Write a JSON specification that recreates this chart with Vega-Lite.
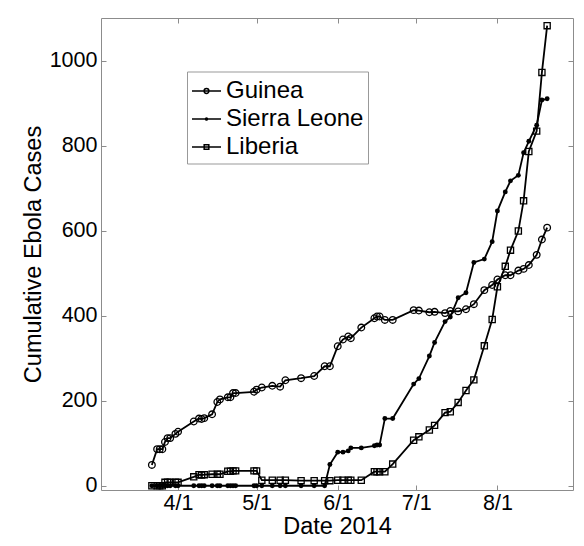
{
  "$schema": "https://vega.github.io/schema/vega-lite/v6.json",
  "width": 472,
  "height": 472,
  "autosize": {"type": "none"},
  "padding": {"left": 101, "top": 18, "right": 11, "bottom": 56},
  "background": "white",
  "config": {
    "font": "Liberation Sans",
    "view": {"stroke": "#8c8c8c", "strokeWidth": 1},
    "axis": {"grid": false, "domain": false, "labelOverlap": false, "labelFlush": false, "tickColor": "#8c8c8c", "tickWidth": 1}
  },
  "data": {
    "values": [
      {"date": "2014-03-22", "country": "Guinea", "cases": 49},
      {"date": "2014-03-24", "country": "Guinea", "cases": 86},
      {"date": "2014-03-25", "country": "Guinea", "cases": 86},
      {"date": "2014-03-26", "country": "Guinea", "cases": 86},
      {"date": "2014-03-27", "country": "Guinea", "cases": 103},
      {"date": "2014-03-28", "country": "Guinea", "cases": 112},
      {"date": "2014-03-29", "country": "Guinea", "cases": 112},
      {"date": "2014-03-31", "country": "Guinea", "cases": 122},
      {"date": "2014-04-01", "country": "Guinea", "cases": 127},
      {"date": "2014-04-07", "country": "Guinea", "cases": 151},
      {"date": "2014-04-09", "country": "Guinea", "cases": 158},
      {"date": "2014-04-10", "country": "Guinea", "cases": 157},
      {"date": "2014-04-11", "country": "Guinea", "cases": 159},
      {"date": "2014-04-14", "country": "Guinea", "cases": 168},
      {"date": "2014-04-16", "country": "Guinea", "cases": 197},
      {"date": "2014-04-17", "country": "Guinea", "cases": 203},
      {"date": "2014-04-20", "country": "Guinea", "cases": 208},
      {"date": "2014-04-21", "country": "Guinea", "cases": 208},
      {"date": "2014-04-22", "country": "Guinea", "cases": 218},
      {"date": "2014-04-23", "country": "Guinea", "cases": 218},
      {"date": "2014-04-30", "country": "Guinea", "cases": 221},
      {"date": "2014-05-01", "country": "Guinea", "cases": 226},
      {"date": "2014-05-03", "country": "Guinea", "cases": 231},
      {"date": "2014-05-07", "country": "Guinea", "cases": 235},
      {"date": "2014-05-10", "country": "Guinea", "cases": 233},
      {"date": "2014-05-12", "country": "Guinea", "cases": 248},
      {"date": "2014-05-18", "country": "Guinea", "cases": 253},
      {"date": "2014-05-23", "country": "Guinea", "cases": 258},
      {"date": "2014-05-27", "country": "Guinea", "cases": 281},
      {"date": "2014-05-29", "country": "Guinea", "cases": 281},
      {"date": "2014-06-01", "country": "Guinea", "cases": 328},
      {"date": "2014-06-03", "country": "Guinea", "cases": 344},
      {"date": "2014-06-05", "country": "Guinea", "cases": 351},
      {"date": "2014-06-06", "country": "Guinea", "cases": 347},
      {"date": "2014-06-10", "country": "Guinea", "cases": 372},
      {"date": "2014-06-15", "country": "Guinea", "cases": 394},
      {"date": "2014-06-16", "country": "Guinea", "cases": 398},
      {"date": "2014-06-17", "country": "Guinea", "cases": 398},
      {"date": "2014-06-19", "country": "Guinea", "cases": 390},
      {"date": "2014-06-22", "country": "Guinea", "cases": 390},
      {"date": "2014-06-30", "country": "Guinea", "cases": 413},
      {"date": "2014-07-02", "country": "Guinea", "cases": 412},
      {"date": "2014-07-06", "country": "Guinea", "cases": 408},
      {"date": "2014-07-08", "country": "Guinea", "cases": 409},
      {"date": "2014-07-12", "country": "Guinea", "cases": 406},
      {"date": "2014-07-14", "country": "Guinea", "cases": 411},
      {"date": "2014-07-17", "country": "Guinea", "cases": 410},
      {"date": "2014-07-20", "country": "Guinea", "cases": 415},
      {"date": "2014-07-23", "country": "Guinea", "cases": 427},
      {"date": "2014-07-27", "country": "Guinea", "cases": 460},
      {"date": "2014-07-30", "country": "Guinea", "cases": 472},
      {"date": "2014-08-01", "country": "Guinea", "cases": 485},
      {"date": "2014-08-04", "country": "Guinea", "cases": 495},
      {"date": "2014-08-06", "country": "Guinea", "cases": 495},
      {"date": "2014-08-09", "country": "Guinea", "cases": 506},
      {"date": "2014-08-11", "country": "Guinea", "cases": 510},
      {"date": "2014-08-13", "country": "Guinea", "cases": 519},
      {"date": "2014-08-16", "country": "Guinea", "cases": 543},
      {"date": "2014-08-18", "country": "Guinea", "cases": 579},
      {"date": "2014-08-20", "country": "Guinea", "cases": 607},

      {"date": "2014-03-22", "country": "Sierra Leone", "cases": 0},
      {"date": "2014-03-24", "country": "Sierra Leone", "cases": 0},
      {"date": "2014-03-25", "country": "Sierra Leone", "cases": 0},
      {"date": "2014-03-26", "country": "Sierra Leone", "cases": 0},
      {"date": "2014-03-27", "country": "Sierra Leone", "cases": 0},
      {"date": "2014-03-28", "country": "Sierra Leone", "cases": 0},
      {"date": "2014-03-29", "country": "Sierra Leone", "cases": 0},
      {"date": "2014-03-31", "country": "Sierra Leone", "cases": 0},
      {"date": "2014-04-01", "country": "Sierra Leone", "cases": 0},
      {"date": "2014-04-07", "country": "Sierra Leone", "cases": 0},
      {"date": "2014-04-09", "country": "Sierra Leone", "cases": 0},
      {"date": "2014-04-10", "country": "Sierra Leone", "cases": 0},
      {"date": "2014-04-11", "country": "Sierra Leone", "cases": 0},
      {"date": "2014-04-14", "country": "Sierra Leone", "cases": 0},
      {"date": "2014-04-16", "country": "Sierra Leone", "cases": 0},
      {"date": "2014-04-17", "country": "Sierra Leone", "cases": 0},
      {"date": "2014-04-20", "country": "Sierra Leone", "cases": 0},
      {"date": "2014-04-21", "country": "Sierra Leone", "cases": 0},
      {"date": "2014-04-22", "country": "Sierra Leone", "cases": 0},
      {"date": "2014-04-23", "country": "Sierra Leone", "cases": 0},
      {"date": "2014-04-30", "country": "Sierra Leone", "cases": 0},
      {"date": "2014-05-01", "country": "Sierra Leone", "cases": 0},
      {"date": "2014-05-03", "country": "Sierra Leone", "cases": 0},
      {"date": "2014-05-07", "country": "Sierra Leone", "cases": 0},
      {"date": "2014-05-10", "country": "Sierra Leone", "cases": 0},
      {"date": "2014-05-12", "country": "Sierra Leone", "cases": 0},
      {"date": "2014-05-18", "country": "Sierra Leone", "cases": 0},
      {"date": "2014-05-23", "country": "Sierra Leone", "cases": 0},
      {"date": "2014-05-27", "country": "Sierra Leone", "cases": 0},
      {"date": "2014-05-29", "country": "Sierra Leone", "cases": 50},
      {"date": "2014-06-01", "country": "Sierra Leone", "cases": 79},
      {"date": "2014-06-03", "country": "Sierra Leone", "cases": 79},
      {"date": "2014-06-05", "country": "Sierra Leone", "cases": 82},
      {"date": "2014-06-06", "country": "Sierra Leone", "cases": 89},
      {"date": "2014-06-10", "country": "Sierra Leone", "cases": 89},
      {"date": "2014-06-15", "country": "Sierra Leone", "cases": 94},
      {"date": "2014-06-16", "country": "Sierra Leone", "cases": 96},
      {"date": "2014-06-17", "country": "Sierra Leone", "cases": 96},
      {"date": "2014-06-19", "country": "Sierra Leone", "cases": 158},
      {"date": "2014-06-22", "country": "Sierra Leone", "cases": 158},
      {"date": "2014-06-30", "country": "Sierra Leone", "cases": 239},
      {"date": "2014-07-02", "country": "Sierra Leone", "cases": 252},
      {"date": "2014-07-06", "country": "Sierra Leone", "cases": 305},
      {"date": "2014-07-08", "country": "Sierra Leone", "cases": 337},
      {"date": "2014-07-12", "country": "Sierra Leone", "cases": 386},
      {"date": "2014-07-14", "country": "Sierra Leone", "cases": 397},
      {"date": "2014-07-17", "country": "Sierra Leone", "cases": 442},
      {"date": "2014-07-20", "country": "Sierra Leone", "cases": 454},
      {"date": "2014-07-23", "country": "Sierra Leone", "cases": 525},
      {"date": "2014-07-27", "country": "Sierra Leone", "cases": 533},
      {"date": "2014-07-30", "country": "Sierra Leone", "cases": 574},
      {"date": "2014-08-01", "country": "Sierra Leone", "cases": 646},
      {"date": "2014-08-04", "country": "Sierra Leone", "cases": 691},
      {"date": "2014-08-06", "country": "Sierra Leone", "cases": 717},
      {"date": "2014-08-09", "country": "Sierra Leone", "cases": 730},
      {"date": "2014-08-11", "country": "Sierra Leone", "cases": 783},
      {"date": "2014-08-13", "country": "Sierra Leone", "cases": 810},
      {"date": "2014-08-16", "country": "Sierra Leone", "cases": 848},
      {"date": "2014-08-18", "country": "Sierra Leone", "cases": 907},
      {"date": "2014-08-20", "country": "Sierra Leone", "cases": 910},

      {"date": "2014-03-22", "country": "Liberia", "cases": 0},
      {"date": "2014-03-24", "country": "Liberia", "cases": 0},
      {"date": "2014-03-25", "country": "Liberia", "cases": 0},
      {"date": "2014-03-26", "country": "Liberia", "cases": 0},
      {"date": "2014-03-27", "country": "Liberia", "cases": 8},
      {"date": "2014-03-28", "country": "Liberia", "cases": 8},
      {"date": "2014-03-29", "country": "Liberia", "cases": 8},
      {"date": "2014-03-31", "country": "Liberia", "cases": 8},
      {"date": "2014-04-01", "country": "Liberia", "cases": 8},
      {"date": "2014-04-07", "country": "Liberia", "cases": 21},
      {"date": "2014-04-09", "country": "Liberia", "cases": 26},
      {"date": "2014-04-10", "country": "Liberia", "cases": 25},
      {"date": "2014-04-11", "country": "Liberia", "cases": 26},
      {"date": "2014-04-14", "country": "Liberia", "cases": 27},
      {"date": "2014-04-16", "country": "Liberia", "cases": 27},
      {"date": "2014-04-17", "country": "Liberia", "cases": 27},
      {"date": "2014-04-20", "country": "Liberia", "cases": 34},
      {"date": "2014-04-21", "country": "Liberia", "cases": 34},
      {"date": "2014-04-22", "country": "Liberia", "cases": 35},
      {"date": "2014-04-23", "country": "Liberia", "cases": 35},
      {"date": "2014-04-30", "country": "Liberia", "cases": 35},
      {"date": "2014-05-01", "country": "Liberia", "cases": 35},
      {"date": "2014-05-03", "country": "Liberia", "cases": 13},
      {"date": "2014-05-07", "country": "Liberia", "cases": 13},
      {"date": "2014-05-10", "country": "Liberia", "cases": 13},
      {"date": "2014-05-12", "country": "Liberia", "cases": 13},
      {"date": "2014-05-18", "country": "Liberia", "cases": 12},
      {"date": "2014-05-23", "country": "Liberia", "cases": 12},
      {"date": "2014-05-27", "country": "Liberia", "cases": 12},
      {"date": "2014-05-29", "country": "Liberia", "cases": 12},
      {"date": "2014-06-01", "country": "Liberia", "cases": 13},
      {"date": "2014-06-03", "country": "Liberia", "cases": 13},
      {"date": "2014-06-05", "country": "Liberia", "cases": 13},
      {"date": "2014-06-06", "country": "Liberia", "cases": 13},
      {"date": "2014-06-10", "country": "Liberia", "cases": 13},
      {"date": "2014-06-15", "country": "Liberia", "cases": 33},
      {"date": "2014-06-16", "country": "Liberia", "cases": 33},
      {"date": "2014-06-17", "country": "Liberia", "cases": 33},
      {"date": "2014-06-19", "country": "Liberia", "cases": 33},
      {"date": "2014-06-22", "country": "Liberia", "cases": 51},
      {"date": "2014-06-30", "country": "Liberia", "cases": 107},
      {"date": "2014-07-02", "country": "Liberia", "cases": 115},
      {"date": "2014-07-06", "country": "Liberia", "cases": 131},
      {"date": "2014-07-08", "country": "Liberia", "cases": 142},
      {"date": "2014-07-12", "country": "Liberia", "cases": 172},
      {"date": "2014-07-14", "country": "Liberia", "cases": 174},
      {"date": "2014-07-17", "country": "Liberia", "cases": 196},
      {"date": "2014-07-20", "country": "Liberia", "cases": 224},
      {"date": "2014-07-23", "country": "Liberia", "cases": 249},
      {"date": "2014-07-27", "country": "Liberia", "cases": 329},
      {"date": "2014-07-30", "country": "Liberia", "cases": 391},
      {"date": "2014-08-01", "country": "Liberia", "cases": 468},
      {"date": "2014-08-04", "country": "Liberia", "cases": 516},
      {"date": "2014-08-06", "country": "Liberia", "cases": 554},
      {"date": "2014-08-09", "country": "Liberia", "cases": 599},
      {"date": "2014-08-11", "country": "Liberia", "cases": 670},
      {"date": "2014-08-13", "country": "Liberia", "cases": 786},
      {"date": "2014-08-16", "country": "Liberia", "cases": 834},
      {"date": "2014-08-18", "country": "Liberia", "cases": 972},
      {"date": "2014-08-20", "country": "Liberia", "cases": 1082}
    ]
  },
  "layer": [
    {
      "mark": {"type": "line", "color": "black", "strokeWidth": 1.8},
      "encoding": {
        "x": {
          "field": "date", "type": "temporal",
          "scale": {"type": "utc", "nice": false, "domain": [{"year": 2014, "month": 3, "date": 2, "hours": 13, "minutes": 30, "utc": true}, {"year": 2014, "month": 8, "date": 29, "hours": 21, "utc": true}]},
          "axis": {
            "orient": "bottom",
            "values": [{"year": 2014, "month": 4, "date": 1, "utc": true}, {"year": 2014, "month": 5, "date": 1, "utc": true}, {"year": 2014, "month": 6, "date": 1, "utc": true}, {"year": 2014, "month": 7, "date": 1, "utc": true}, {"year": 2014, "month": 8, "date": 1, "utc": true}],
            "labelExpr": "utcFormat(datum.value, '%-m/%-d')",
            "tickSize": -5, "labelPadding": 7, "labelFontSize": 21.5, "labelColor": "black",
            "title": "Date 2014", "titleFontSize": 23.5, "titleFontWeight": "normal", "titleColor": "black", "titlePadding": 1
          }
        },
        "y": {
          "field": "cases", "type": "quantitative",
          "scale": {"domain": [-10, 1100], "nice": false, "zero": false},
          "axis": {
            "orient": "left",
            "values": [0, 200, 400, 600, 800, 1000],
            "format": "d",
            "tickSize": -5, "labelPadding": 9, "labelFontSize": 21.5, "labelColor": "black",
            "title": "Cumulative Ebola Cases", "titleFontSize": 23.5, "titleFontWeight": "normal", "titleColor": "black", "titlePadding": 4
          }
        },
        "detail": {"field": "country", "type": "nominal"}
      }
    },
    {
      "transform": [{"filter": "datum.country === 'Guinea'"}],
      "mark": {"type": "point", "shape": "circle", "size": 44, "filled": false, "color": "black", "strokeWidth": 1.3, "opacity": 1},
      "encoding": {
        "x": {"field": "date", "type": "temporal", "axis": {"orient": "top", "labels": false, "title": null, "tickSize": -5, "values": [{"year": 2014, "month": 4, "date": 1, "utc": true}, {"year": 2014, "month": 5, "date": 1, "utc": true}, {"year": 2014, "month": 6, "date": 1, "utc": true}, {"year": 2014, "month": 7, "date": 1, "utc": true}, {"year": 2014, "month": 8, "date": 1, "utc": true}]}},
        "y": {"field": "cases", "type": "quantitative", "axis": {"orient": "right", "labels": false, "title": null, "tickSize": -5, "values": [0, 200, 400, 600, 800, 1000]}}
      }
    },
    {
      "transform": [{"filter": "datum.country === 'Sierra Leone'"}],
      "mark": {"type": "point", "shape": "circle", "size": 24, "filled": true, "color": "black", "opacity": 1},
      "encoding": {
        "x": {"field": "date", "type": "temporal", "axis": null},
        "y": {"field": "cases", "type": "quantitative", "axis": null}
      }
    },
    {
      "transform": [{"filter": "datum.country === 'Liberia'"}],
      "mark": {"type": "point", "shape": "square", "size": 38, "filled": false, "color": "black", "strokeWidth": 1.3, "opacity": 1},
      "encoding": {
        "x": {"field": "date", "type": "temporal", "axis": null},
        "y": {"field": "cases", "type": "quantitative", "axis": null}
      }
    },
    {
      "mark": {"type": "point", "opacity": 0, "color": "black", "filled": false},
      "encoding": {
        "x": {"field": "date", "type": "temporal", "axis": null},
        "y": {"field": "cases", "type": "quantitative", "axis": null},
        "shape": {
          "field": "country", "type": "nominal",
          "scale": {
            "domain": ["Guinea", "Sierra Leone", "Liberia"],
            "range": [
              "M-1,0L1,0M0.165,0A0.165,0.165 0 1 1 -0.165,0A0.165,0.165 0 1 1 0.165,0Z",
              "M-1,0L1,0M0.07,0A0.07,0.07 0 1 1 -0.07,0A0.07,0.07 0 1 1 0.07,0Z",
              "M-1,0L1,0M-0.16,-0.16L0.16,-0.16L0.16,0.16L-0.16,0.16Z"
            ]
          },
          "legend": {
            "orient": "none", "legendX": 86, "legendY": 53.5, "title": null,
            "symbolSize": 841, "symbolStrokeWidth": 1.5, "symbolStrokeColor": "black", "symbolFillColor": "transparent", "symbolOpacity": 1,
            "labelFontSize": 24, "labelColor": "black", "labelOffset": 4, "labelFont": "Liberation Sans",
            "padding": 4, "rowPadding": 0, "strokeColor": "#999999", "fillColor": "white", "cornerRadius": 0
          }
        }
      }
    }
  ],
  "resolve": {"axis": {"x": "independent", "y": "independent"}}
}
